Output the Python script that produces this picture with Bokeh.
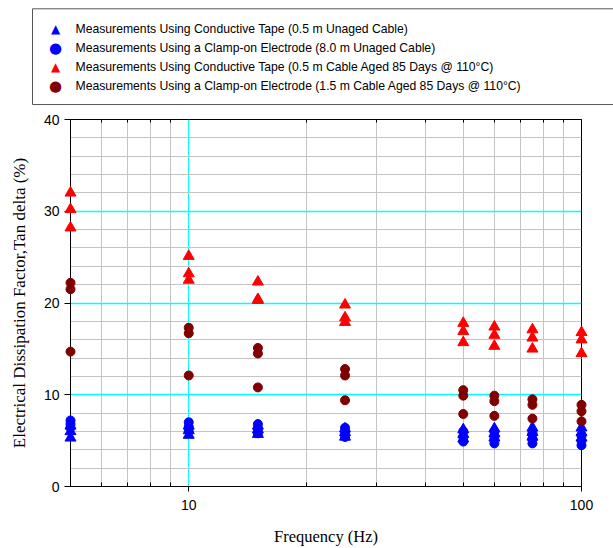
from bokeh.plotting import figure
from bokeh.models import Range1d, FixedTicker, LogAxis, LinearScale
from bokeh.core.properties import value
from bokeh.embed import file_html
from bokeh.resources import INLINE

# ---------------- data ----------------
freq = [5, 10, 15, 25, 50, 60, 75, 100]

tape_unaged = [
    [5.3, 6.0, 6.6],
    [5.6, 6.1, 6.6],
    [5.7, 6.2, 6.6],
    [5.4, 5.9, 6.3],
    [5.2, 5.7, 6.2],
    [5.3, 5.8, 6.3],
    [5.4, 5.9, 6.4],
    [5.3, 5.9, 6.4],
]
clamp_unaged = [
    [7.2, 6.8, 6.4],
    [7.0, 6.5, 6.0],
    [6.8, 6.3, 5.8],
    [6.4, 5.9, 5.4],
    [6.0, 5.4, 4.9],
    [6.0, 5.3, 4.7],
    [5.8, 5.2, 4.7],
    [5.5, 5.0, 4.5],
]
tape_aged = [
    [32.0, 30.2, 28.2],
    [25.1, 23.2, 22.5],
    [22.3, 20.4, 20.3],
    [19.8, 18.4, 17.9],
    [17.8, 16.9, 15.7],
    [17.4, 16.5, 15.3],
    [17.1, 16.2, 15.0],
    [16.8, 16.0, 14.5],
]
clamp_aged = [
    [22.2, 21.5, 14.7],
    [17.3, 16.7, 12.1],
    [15.1, 14.5, 10.8],
    [12.8, 12.1, 9.4],
    [10.5, 9.9, 7.9],
    [9.9, 9.3, 7.7],
    [9.5, 8.9, 7.4],
    [8.9, 8.2, 7.1],
]

labels = [
    "Measurements Using Conductive Tape (0.5 m Unaged Cable)",
    "Measurements Using a Clamp-on Electrode (8.0 m Unaged Cable)",
    "Measurements Using Conductive Tape (0.5 m Cable Aged 85 Days @ 110\u00b0C)",
    "Measurements Using a Clamp-on Electrode (1.5 m Cable Aged 85 Days @ 110\u00b0C)",
]
markers = ["triangle", "circle", "triangle", "circle"]
marker_symbols = {"triangle": "\u25b2", "circle": "\u25cf"}
colors = ["#0000ff", "#0000ff", "#ff0000", "#800000"]
series = [tape_unaged, clamp_unaged, tape_aged, clamp_aged]

x_major = [10, 100]
x_major_labels = ["10", "100"]
x_minor = [6, 7, 8, 9, 20, 30, 40, 50, 60, 70, 80, 90]
y_major = [0, 10, 20, 30, 40]
y_minor = [2, 4, 6, 8, 12, 14, 16, 18, 22, 24, 26, 28, 32, 34, 36, 38]


def flat(s):
    xs, ys = [], []
    for f, vals in zip(freq, s):
        for v in vals:
            xs.append(f)
            ys.append(v)
    return xs, ys


# ---------------- layout constants (pixels) ----------------
W, H = 613, 548
BL, BR, BT, BB = 70, 32, 119, 61
LEG_LEFT, LEG_RIGHT, LEG_TOP, LEG_BOTTOM = 32, 640, 8, 104
LEG_MARK_X, LEG_TEXT_X = 55, 75
LEG_ROW0, LEG_ROW_STEP = 28, 19.3

p = figure(width=W, height=H, x_axis_type="log",
           x_range=Range1d(5, 100), y_range=Range1d(0, 40),
           output_backend="svg", toolbar_location=None,
           min_border_left=BL, min_border_right=BR,
           min_border_top=BT, min_border_bottom=BB)
p.background_fill_color = "white"
p.border_fill_color = "white"
p.outline_line_color = "black"
p.outline_line_width = 1

# linear pixel-space ranges for the legend box drawn above the frame
p.extra_x_ranges = {"px": Range1d(BL, W - BR)}
p.extra_y_ranges = {"px": Range1d(H - BB, BT)}
p.extra_x_scales = {"px": LinearScale()}
p.extra_y_scales = {"px": LinearScale()}

xa = p.xaxis[0]
xa.ticker = FixedTicker(ticks=x_major, minor_ticks=x_minor)
xa.major_label_overrides = {t: s for t, s in zip(x_major, x_major_labels)}
xa.axis_label = "Frequency (Hz)"
ya = p.yaxis[0]
ya.ticker = FixedTicker(ticks=y_major, minor_ticks=y_minor)
ya.axis_label = "Electrical Dissipation Factor,Tan delta (%)"

for ax in (xa, ya):
    ax.axis_line_color = "black"
    ax.major_tick_line_color = "black"
    ax.major_label_text_font = "Liberation Sans"
    ax.major_label_text_font_size = "14px"
    ax.major_label_text_color = "black"
    ax.axis_label_text_font = "Liberation Serif"
    ax.axis_label_text_font_style = "normal"
    ax.axis_label_text_color = "black"

xa.axis_label_text_font_size = "16.5px"
ya.axis_label_text_font_size = "17px"

xa.major_tick_in = 0
xa.major_tick_out = 5
xa.minor_tick_in = 4
xa.minor_tick_out = 0
xa.minor_tick_line_color = "black"
xa.major_label_standoff = 8
xa.axis_label_standoff = 14

ya.major_tick_in = 0
ya.major_tick_out = 6
ya.minor_tick_line_color = None
ya.major_label_standoff = 5
ya.axis_label_standoff = 12

# top axis with inward minor ticks only
top = LogAxis(ticker=FixedTicker(ticks=x_major, minor_ticks=x_minor))
top.major_label_overrides = {t: "" for t in x_major}
top.major_label_text_font_size = "0px"
top.major_label_standoff = 0
top.major_tick_in = 0
top.major_tick_out = 0
top.minor_tick_in = 3
top.minor_tick_out = 0
top.minor_tick_line_color = "black"
top.axis_line_color = "black"
p.add_layout(top, "above")

p.xgrid.ticker = FixedTicker(ticks=x_major, minor_ticks=x_minor)
p.ygrid.ticker = FixedTicker(ticks=y_major, minor_ticks=y_minor)
for g in (p.xgrid[0], p.ygrid[0]):
    g.grid_line_color = "#00ffff"
    g.minor_grid_line_color = "#c4c4c4"
    g.minor_grid_line_width = 1
p.xgrid[0].grid_line_width = 1
p.ygrid[0].grid_line_width = 1.5

for s, m, c in zip(series, markers, colors):
    x, y = flat(s)
    p.scatter(x, y, marker=m, size=11 if m == "triangle" else 9, color=c,
              level="overlay")

# ---------------- legend (drawn in pixel space above the frame) ----------------
p.quad(left=[LEG_LEFT], right=[LEG_RIGHT], top=[LEG_TOP], bottom=[LEG_BOTTOM],
       fill_color="white", line_color="#555555", line_width=1,
       x_range_name="px", y_range_name="px", level="overlay")
rows = [LEG_ROW0 + i * LEG_ROW_STEP for i in range(len(labels))]
p.text(x=[LEG_MARK_X] * len(labels), y=rows,
       text=[marker_symbols[m] for m in markers],
       text_color=colors,
       text_font=value("DejaVu Sans"),
       text_font_size=["12px" if m == "triangle" else "15px" for m in markers],
       text_align="center", text_baseline="middle",
       x_range_name="px", y_range_name="px", level="overlay")
p.text(x=[LEG_TEXT_X] * len(labels), y=rows, text=labels,
       text_font=value("Liberation Sans"), text_font_size="12.2px",
       text_color="black", text_baseline="middle", text_align="left",
       x_range_name="px", y_range_name="px", level="overlay")

open("out.html", "w").write(file_html(p, INLINE))
